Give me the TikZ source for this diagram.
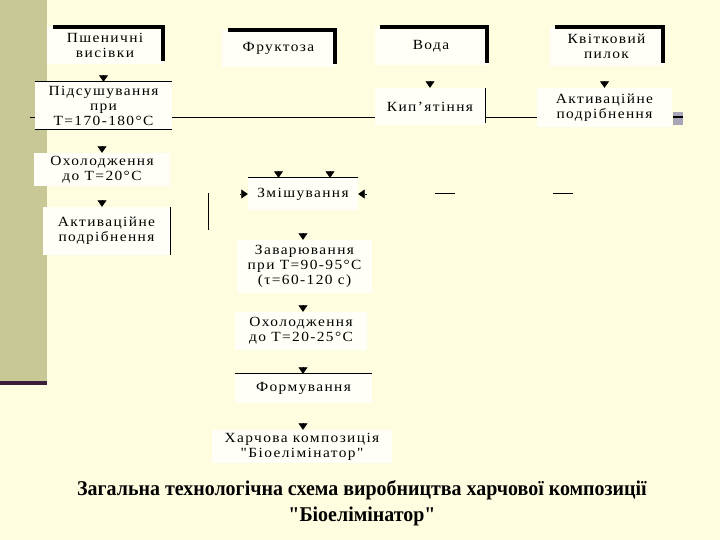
\documentclass[tikz,border=0pt]{standalone}
\usepackage{fontspec}
\setmainfont{Liberation Serif}
\newfontfamily\boxfont[LetterSpace=10,FakeStretch=1.1]{Liberation Serif}
\newfontfamily\capfont[FakeStretch=0.95]{Liberation Serif}
\usetikzlibrary{arrows.meta}
\definecolor{cream}{RGB}{255,253,224}
\definecolor{olive}{RGB}{200,200,150}
\definecolor{plum}{RGB}{60,30,60}
\definecolor{paper}{RGB}{255,255,248}
\definecolor{greyblock}{RGB}{168,166,184}
\tikzset{
  stage/.style={fill=paper, inner sep=0pt, align=center,
    font=\boxfont\fontsize{14}{15}\selectfont},
  frame/.style={line width=3.5pt},
  rule/.style={line width=0.8pt},
  tip/.style={-{Triangle[width=9pt,length=6.5pt]}, line width=0.6pt},
}
\begin{document}
\begin{tikzpicture}[x=1pt,y=-1pt]
    \useasboundingbox (0,0) rectangle (720,540);
    \fill[cream] (0,0) rectangle (720,540);
    \fill[olive] (0,0) rectangle (47,381);
    \fill[plum] (0,381) rectangle (47,385);
    % Raw materials
    \node[stage, minimum width=116pt, minimum height=37pt] (wheat) at (105,45.5) {Пшеничні\\висівки};
    \node[stage, minimum width=113pt, minimum height=37pt] (fructose) at (278.5,48.5) {Фруктоза};
    \node[stage, minimum width=112pt, minimum height=38pt] (water) at (431,46) {Вода};
    \node[stage, minimum width=113pt, minimum height=39pt] (pollen) at (606.5,46.5) {Квітковий\\пилок};
    \draw[frame] ([xshift=6pt]wheat.north west) -- (wheat.north east) -- ([yshift=3pt]wheat.south east);
    \draw[frame] ([xshift=6pt]fructose.north west) -- (fructose.north east) -- ([yshift=3pt]fructose.south east);
    \draw[frame] ([xshift=5pt]water.north west) -- (water.north east) -- ([yshift=2pt]water.south east);
    \draw[frame] ([xshift=5pt]pollen.north west) -- (pollen.north east) -- ([yshift=3pt]pollen.south east);
    % Preparation
    \node[stage, minimum width=137pt, minimum height=47pt] (drying) at (103.5,105.5) {Підсушування\\при\\Т=170-180°С};
    \node[stage, minimum width=110pt, minimum height=37pt] (boiling) at (430,106.5) {Кип’ятіння};
    \node[stage, minimum width=135pt, minimum height=39pt] (grindB) at (604.5,107.5) {Активаційне\\подрібнення};
    \node[stage, minimum width=136pt, minimum height=33pt] (coolA) at (102,169.5) {Охолодження\\до Т=20°С};
    \node[stage, minimum width=127pt, minimum height=48pt] (grindA) at (106.5,231) {Активаційне\\подрібнення};
    \draw[rule] (drying.north west) -- (drying.north east);
    \draw[rule] (drying.south west) -- (drying.south east);
    \draw[rule] (boiling.north east) -- ([yshift=2pt]boiling.south east);
    \draw[rule] (grindA.north east) -- (grindA.south east);
    \coordinate (bus) at (0,117);
    \draw[rule] ([xshift=-5pt]drying.west |- bus) -- (drying.west |- bus);
    \draw[rule] (drying.east |- bus) -- (boiling.west |- bus);
    \draw[rule] (boiling.east |- bus) -- (grindB.west |- bus);
    \fill[greyblock] ([xshift=1pt]grindB.east |- 0,112) rectangle ([xshift=11pt]grindB.east |- 0,125);
    \draw[line width=1.5pt] ([xshift=1pt]grindB.east |- bus) -- ([xshift=11pt]grindB.east |- bus);
    % Main line
    \node[stage, minimum width=110pt, minimum height=32pt] (mixing) at (303,194) {Змішування};
    \node[stage, minimum width=135pt, minimum height=53pt] (brewing) at (304.5,266.5) {Заварювання\\при Т=90-95°С\\(τ=60-120 с)};
    \node[stage, minimum width=132pt, minimum height=38pt] (coolB) at (301,331) {Охолодження\\до Т=20-25°С};
    \node[stage, minimum width=137pt, minimum height=29pt] (forming) at (303.5,388.5) {Формування};
    \node[stage, minimum width=180pt, minimum height=33pt] (product) at (302,446.5) {Харчова композиція\\"Біоелімінатор"};
    \draw[rule] (mixing.north west) -- (mixing.north east);
    \draw[rule] (forming.north west) -- (forming.north east);
    \coordinate (stubA) at (208,193);
    \coordinate (stubB) at (208,230);
    \draw[rule] (stubA) -- (stubB);
    \coordinate (dashA) at (435,193);
    \coordinate (dashB) at (553,193);
    \draw[rule] (dashA) -- ++(20,0);
    \draw[rule] (dashB) -- ++(20,0);
    % Arrow heads
    \draw[tip] ([yshift=7pt]drying.north) -- (drying.north);
    \draw[tip] ([yshift=7pt]coolA.north) -- (coolA.north);
    \draw[tip] ([yshift=7pt]coolA.center |- grindA.north) -- (coolA.center |- grindA.north);
    \draw[tip] ([yshift=7pt]boiling.north) -- (boiling.north);
    \draw[tip] ([yshift=7pt]grindB.north) -- (grindB.north);
    \draw[tip] ([yshift=7pt]fructose.center |- mixing.north) -- (fructose.center |- mixing.north);
    \draw[tip] ([xshift=27pt,yshift=7pt]mixing.north) -- ([xshift=27pt]mixing.north);
    \draw[tip] ([xshift=-8pt]mixing.west) -- (mixing.west);
    \draw[tip] ([xshift=9pt]mixing.east) -- (mixing.east);
    \draw[tip] ([yshift=7pt]brewing.north -| mixing.north) -- (brewing.north -| mixing.north);
    \draw[tip] ([yshift=7pt]coolB.north -| mixing.north) -- (coolB.north -| mixing.north);
    \draw[tip] ([yshift=7pt]forming.north -| mixing.north) -- (forming.north -| mixing.north);
    \draw[tip] ([yshift=7pt]product.north -| mixing.north) -- (product.north -| mixing.north);
    % Caption
    \node[font=\capfont\bfseries\fontsize{21}{26}\selectfont, align=center] (caption) at (362,503)
        {Загальна технологічна схема виробництва харчової композиції\\"Біоелімінатор"};
\end{tikzpicture}
\end{document}
